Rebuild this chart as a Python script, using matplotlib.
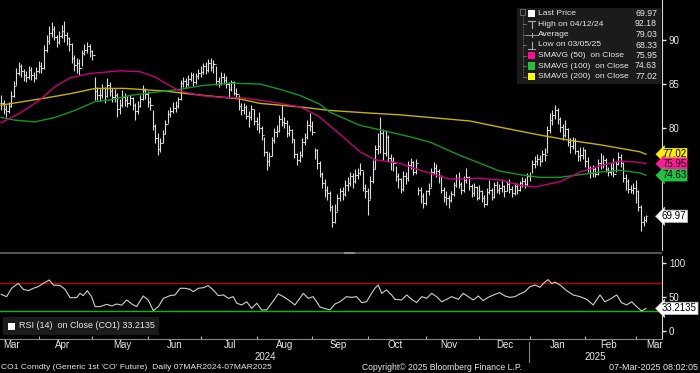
import matplotlib
matplotlib.use("Agg")
import matplotlib.pyplot as plt
import matplotlib.transforms as mtransforms
from matplotlib.patches import Rectangle
from matplotlib.lines import Line2D

plt.rcParams['font.family'] = ['Liberation Sans', 'DejaVu Sans']

W, H = 700, 373

# daily bars, trading day index 0 = 07MAR2024
close = [82.8, 82.2, 81.9, 82.5, 83.6, 84.8, 86.2, 87.0, 86.5, 86.0,
         85.8, 86.6, 86.0, 85.7, 86.5, 87.1, 86.8, 88.9, 89.9, 90.8,
         91.3, 90.4, 89.8, 90.5, 91.0, 90.6, 90.2, 89.5, 88.0, 87.2,
         87.4, 86.8, 88.5, 88.9, 89.3, 88.7, 88.3, 84.2, 83.8, 83.7,
         84.5, 83.6, 84.9, 84.2, 83.5, 83.8, 82.2, 82.6, 83.5, 83.2,
         82.8, 83.4, 82.6, 81.9, 82.5, 83.3, 84.3, 83.9, 83.0, 82.6,
         80.2, 78.9, 77.6, 78.3, 79.3, 80.5, 81.6, 81.9, 82.3, 82.5,
         83.3, 85.1, 85.3, 85.0, 85.6, 86.0, 85.2, 85.9, 86.3, 86.4,
         87.0, 86.6, 87.4, 86.9, 87.3, 85.3, 85.1, 85.8, 85.5, 85.0,
         84.4, 85.2, 84.0, 83.9, 82.5, 82.0, 82.4, 81.4, 81.2, 82.2,
         80.8, 80.5, 80.0, 79.2, 77.3, 76.2, 76.8, 78.6, 79.5, 79.7,
         81.0, 80.7, 80.6, 79.4, 79.8, 78.7, 77.0, 76.4, 76.9, 78.4,
         79.0, 80.3, 80.2, 79.6, 77.5, 76.0, 74.8, 73.8, 73.0, 72.6,
         71.0, 69.3, 70.5, 72.0, 72.8, 72.5, 73.5, 73.8, 74.5, 74.0,
         74.7, 74.9, 75.2, 73.2, 72.8, 71.8, 74.0, 75.4, 77.6, 78.0,
         79.4, 77.2, 79.0, 76.6, 76.2, 76.0, 74.5, 74.2, 73.1, 74.5,
         74.3, 75.8, 76.1, 75.0, 76.0, 73.0, 72.3, 71.5, 72.8, 73.2,
         75.0, 75.5, 75.1, 74.6, 73.0, 72.2, 72.0, 71.8, 72.5, 73.5,
         74.3, 73.6, 73.0, 74.1, 74.4, 73.4, 72.6, 73.3, 72.0, 72.9,
         72.0, 71.4, 72.7, 73.0, 72.2, 73.5, 73.0, 73.2, 73.4, 72.8,
         73.6, 73.1, 72.6, 73.4, 73.0, 73.7, 74.0, 73.6, 74.5, 74.6,
         75.9, 76.2, 76.5, 76.3, 77.0, 76.9, 79.8, 80.9, 81.5, 82.0,
         81.0, 80.1, 79.2, 79.9, 78.4, 78.0, 78.5, 77.4, 76.8, 76.9,
         77.5, 76.2, 75.5, 74.9, 75.4, 74.8, 76.0, 75.8, 76.4, 75.3,
         75.0, 75.5, 74.8, 75.9, 76.7, 76.0, 74.3, 74.0, 73.1, 73.0,
         73.2, 72.8, 71.0, 69.3, 69.5, 69.97]

high = [83.7, 83.2, 82.6, 83.0, 84.2, 85.3, 86.8, 87.5, 87.3, 86.7,
        86.5, 87.0, 86.9, 86.4, 86.9, 87.6, 87.5, 89.4, 90.6, 91.6,
        92.0, 91.6, 90.6, 91.0, 91.7, 92.18, 90.9, 90.4, 89.7, 88.3,
        88.0, 87.8, 88.9, 89.6, 89.8, 89.6, 88.9, 85.8, 84.7, 84.4,
        85.0, 84.7, 85.7, 85.2, 84.5, 84.4, 84.0, 83.3, 84.3, 84.0,
        83.6, 83.8, 83.5, 82.9, 83.1, 83.8, 84.9, 84.6, 84.2, 83.5,
        82.1, 80.5, 79.4, 78.9, 79.8, 80.9, 82.1, 82.4, 83.0, 83.1,
        83.5, 85.5, 85.8, 85.7, 86.0, 86.4, 86.2, 86.2, 86.7, 87.0,
        87.4, 87.5, 87.9, 88.0, 87.7, 87.1, 85.8, 86.4, 86.2, 85.9,
        85.2, 85.5, 85.4, 84.5, 83.8, 82.8, 82.9, 82.6, 81.9, 82.6,
        82.2, 81.3, 81.8, 80.2, 79.0, 77.4, 77.3, 79.0, 80.0, 80.3,
        81.5, 82.6, 81.2, 80.9, 80.3, 79.9, 78.8, 77.2, 77.4, 78.9,
        79.4, 80.9, 81.7, 80.8, 77.7, 77.6, 76.2, 75.0, 74.2, 73.4,
        72.9, 71.2, 71.4, 72.5, 73.2, 73.3, 74.1, 74.4, 75.0, 74.9,
        75.3, 75.5, 76.0, 75.1, 73.6, 73.2, 74.5, 76.4, 78.1, 79.4,
        81.2, 79.9, 79.8, 79.2, 77.0, 76.7, 75.7, 74.9, 74.3, 75.1,
        75.0, 76.2, 76.6, 76.3, 76.5, 73.3, 73.3, 72.6, 73.0, 73.8,
        75.5, 76.1, 75.9, 75.3, 74.7, 73.3, 72.8, 72.4, 72.9, 73.9,
        74.8, 75.0, 73.9, 74.5, 75.5, 74.6, 73.6, 73.7, 73.4, 73.5,
        73.0, 72.4, 73.2, 74.1, 73.2, 73.9, 74.0, 73.6, 74.2, 73.5,
        74.0, 74.2, 73.4, 73.7, 73.8, 74.0, 74.4, 74.3, 74.9, 75.0,
        76.4, 76.8, 77.1, 76.9, 77.5, 77.7, 80.2, 81.7, 82.0, 82.6,
        82.3, 81.3, 80.5, 80.9, 80.0, 78.9, 79.0, 78.9, 77.5, 77.8,
        77.8, 77.6, 76.7, 75.7, 75.8, 75.6, 76.5, 77.2, 76.9, 76.6,
        75.6, 76.0, 76.6, 76.2, 77.3, 77.0, 76.1, 74.8, 74.2, 73.5,
        73.8, 74.1, 73.0, 71.25, 70.0, 70.1]

low = [82.0, 81.6, 81.25, 81.7, 82.4, 83.5, 84.9, 86.0, 85.8, 85.4,
       85.2, 85.6, 85.5, 85.2, 85.6, 86.3, 86.2, 86.7, 88.6, 89.5,
       90.4, 90.0, 89.2, 89.6, 90.2, 89.8, 89.4, 88.7, 87.4, 86.5,
       86.2, 86.0, 87.0, 88.3, 88.5, 88.1, 87.7, 83.2, 83.2, 83.1,
       83.4, 82.8, 83.5, 83.6, 83.0, 83.0, 81.25, 81.6, 82.4, 82.5,
       82.4, 82.6, 82.0, 80.9, 81.6, 82.4, 83.2, 83.3, 82.4, 82.0,
       79.8, 78.3, 76.9, 77.3, 78.3, 79.3, 80.6, 81.3, 81.7, 81.8,
       82.3, 83.2, 84.7, 84.5, 84.8, 85.3, 84.8, 85.0, 85.6, 85.8,
       86.1, 86.1, 86.4, 86.5, 86.3, 84.9, 84.7, 84.9, 85.0, 84.5,
       83.5, 84.2, 83.7, 83.4, 82.1, 81.5, 81.6, 81.0, 80.1, 80.9,
       80.3, 79.8, 79.4, 78.6, 76.8, 75.2, 75.7, 76.8, 78.3, 79.0,
       79.6, 80.2, 80.0, 79.0, 79.1, 78.3, 76.6, 75.8, 76.1, 76.7,
       78.1, 78.7, 79.7, 79.2, 76.5, 75.3, 74.4, 73.2, 72.2, 71.8,
       70.6, 68.7, 69.2, 70.6, 71.7, 71.8, 72.3, 72.9, 73.4, 73.2,
       73.7, 74.2, 74.7, 72.8, 72.0, 70.1, 71.9, 73.8, 75.4, 77.0,
       77.2, 76.4, 76.8, 76.1, 75.2, 75.1, 74.0, 73.2, 72.6, 72.9,
       73.6, 74.0, 75.3, 74.7, 74.8, 72.4, 71.5, 70.9, 71.3, 72.4,
       73.3, 74.8, 74.4, 73.8, 72.6, 71.6, 71.2, 70.9, 71.6, 72.3,
       73.3, 73.2, 72.5, 72.7, 73.8, 73.0, 72.2, 72.3, 71.8, 71.9,
       71.6, 71.0, 71.3, 72.5, 71.8, 72.0, 72.6, 72.5, 72.7, 72.2,
       72.8, 72.6, 72.2, 72.4, 72.5, 72.9, 73.3, 73.2, 73.4, 74.0,
       74.9, 75.5, 75.8, 75.7, 76.1, 76.3, 77.2, 79.4, 80.4, 81.0,
       80.5, 79.6, 78.6, 79.0, 78.0, 77.2, 77.6, 77.0, 76.3, 76.2,
       76.5, 75.6, 75.0, 74.3, 74.4, 74.4, 74.7, 75.4, 75.5, 75.0,
       74.5, 74.7, 74.4, 75.0, 75.8, 75.6, 73.9, 73.0, 72.6, 72.6,
       72.5, 71.5, 70.6, 68.33, 68.9, 69.3]

# moving averages (day index, value)
sma50_day = [0, 7.5, 15.4, 21.3, 27.3, 35.2, 47, 55, 60.9, 66.8, 70.8, 78.7,
             86.6, 96.4, 106.3, 118.2, 125.3, 134, 141.9, 147.8, 157.7, 165.6,
             177.5, 189.3, 197.2, 205.1, 211.1, 221, 228.9, 236.8, 244.7, 252.6, 255]
sma50_val = [80.6, 81.7, 83.2, 84.7, 85.7, 86.2, 86.5, 86.4, 85.8, 84.8, 84.2, 83.7,
             83.5, 83.4, 83.0, 82.4, 81.4, 79.3, 77.3, 76.4, 76.0, 75.2,
             74.2, 74.3, 74.1, 73.5, 73.3, 73.9, 75.0, 75.7, 76.25, 76.1, 75.95]

sma100_day = [0, 5.5, 13.4, 21.3, 29.2, 37.2, 43.1, 51, 58.9, 70.8, 78.7, 90.5,
              102.4, 110.3, 118.2, 126.1, 130, 141.9, 149.8, 161.7, 169.6, 181.4,
              189.3, 197.2, 205.1, 213, 221, 228.9, 236.8, 244.7, 252.6, 255]
sma100_val = [81.2, 80.9, 80.7, 81.2, 82.0, 83.0, 83.2, 83.7, 84.0, 84.4, 84.8, 85.1,
              85.0, 84.4, 83.7, 82.7, 81.8, 80.3, 79.8, 79.0, 78.4, 76.9,
              76.0, 75.1, 74.7, 74.4, 74.4, 74.7, 75.0, 75.2, 74.9, 74.63]

sma200_day = [0, 17.4, 27.3, 37.2, 49, 64.8, 70.8, 78.7, 94.5, 102.4, 118.2,
              130, 145.8, 157.7, 185.4, 197.2, 213, 224.9, 236.8, 252.6, 255]
sma200_val = [82.6, 83.4, 83.9, 84.5, 84.5, 84.2, 84.0, 83.75, 83.3, 82.8, 82.4,
              82.0, 81.7, 81.5, 80.8, 80.1, 79.2, 78.6, 78.1, 77.3, 77.02]

rsi_day = [0, 2.2, 4.2, 6.8, 8.8, 10.8, 12.8, 14.7, 16.7, 19.1, 20.7, 23.3, 25.3,
           27.3, 29.9, 31.2, 32.5, 34.1, 35.8, 37.2, 39.1, 41.8, 43.8, 45.7, 47.7,
           49.7, 51.7, 53.6, 56.2, 58.2, 60.2, 62.2, 64.2, 66.8, 68.8, 70.8, 72.7,
           74.7, 76, 78, 80, 81.9, 83.9, 85.9, 87.9, 89.9, 91.8, 93.2, 95.1, 97.1,
           99.1, 101.1, 103, 105, 107, 109.6, 111.6, 113.6, 116.2, 119.5, 121.5,
           123.4, 126.1, 128.1, 130, 132, 134, 136.6, 138.6, 140.6, 142.6, 144.5,
           146.5, 147.8, 149.1, 150.5, 152.4, 154.4, 155.7, 158.4, 160.4, 162.3,
           164.3, 166.3, 168.3, 170.2, 172.2, 174.2, 176.2, 178.1, 180.8, 182.7,
           184.7, 186.7, 188.7, 190.6, 192.6, 195.3, 197.2, 199.2, 201.2, 203.2,
           205.1, 207.1, 209.1, 211.1, 213, 215, 216.3, 217.7, 219, 221, 223.6,
           226.2, 228.9, 231.5, 234.1, 236.8, 238.7, 240.7, 243.4, 245.3, 247.3,
           249.3, 251.3, 253.2, 255]
rsi_val = [54, 50.5, 62.8, 70, 61.3, 59.3, 62.8, 65.2, 70, 75, 67.6, 67, 61.3,
           49, 49, 55.4, 52, 59.3, 50.5, 35.8, 35.8, 39.2, 36.8, 39.7, 38,
           45.6, 39.7, 35.8, 51.5, 45.6, 30, 35.8, 48, 52, 53, 62.8, 62.8,
           61.3, 57.8, 62.8, 63.7, 66.7, 60.4, 52, 53, 48, 50.5, 40.8, 38.3, 43,
           33.3, 40.8, 31, 31, 40.8, 54.6, 50.5, 45.6, 38.3, 55.4, 48,
           50.5, 35.3, 32.8, 31, 39.7, 43, 50.5, 49.5, 50.5, 41.7, 43,
           55.4, 62.8, 67.6, 55.4, 60.4, 53, 46.6, 45.6, 53, 46.6,
           41.7, 50.5, 48, 55.4, 50.5, 43, 46.6, 50.5, 46.6, 55.4,
           50.5, 45.6, 51.5, 44.6, 49.5, 54, 56.4, 51.5, 49.5, 50.5,
           54.6, 57.8, 65.2, 67.6, 64.2, 72, 75.5, 69.6, 72, 67.6, 59.3,
           53, 50.5, 46.6, 38.3, 53, 43, 46.6, 53, 41.7, 38.3,
           43, 35.8, 29.5, 33.2135]

month_names = ['Mar', 'Apr', 'May', 'Jun', 'Jul', 'Aug', 'Sep', 'Oct', 'Nov', 'Dec',
               'Jan', 'Feb', 'Mar']
month_label_pos = [4.3, 24.5, 47.8, 68.8, 90.5, 112.3, 133.2, 155.7, 177, 199.2,
                   220.2, 240.3, 258.5]
month_starts = [15, 36, 58, 79, 101, 123, 145, 168, 189, 209, 231, 251]
year_names = ['2024', '2025']
year_pos = [104.3, 235]
year_break = 208.6

legend_labels = ['Last Price', 'High on 04/12/24', 'Average', 'Low on 03/05/25',
                 'SMAVG (50)  on Close', 'SMAVG (100)  on Close', 'SMAVG (200)  on Close']
legend_values = ['69.97', '92.18', '79.03', '68.33', '75.95', '74.63', '77.02']

TXT = '#e8e8e8'
MAG, GRN, YEL = '#c8007c', '#12962a', '#c8b400'


def fx(x):
    return x / W


def fy(y):
    return 1 - y / H


fig = plt.figure(figsize=(7, 3.73), dpi=100, facecolor='black')


def prect(x, y, w, h, **kw):
    fig.add_artist(Rectangle((fx(x), fy(y + h)), w / W, h / H,
                             transform=fig.transFigure, **kw))


def pline(xs, ys, **kw):
    fig.add_artist(Line2D([fx(x) for x in xs], [fy(y) for y in ys],
                          transform=fig.transFigure, **kw))


# ---- price panel
ax = fig.add_axes([0, fy(250), 662 / W, 250 / H], facecolor='black')
days = list(range(len(close)))
opens = [close[0]] + close[:-1]
ax.vlines(days, low, high, color='#dcdcdc', lw=0.8)
ax.hlines(close, days, [d + 0.5 for d in days], color='#dcdcdc', lw=0.8)
ax.hlines(opens, [d - 0.5 for d in days], days, color='#dcdcdc', lw=0.8)
ax.plot(sma200_day, sma200_val, color=YEL, lw=1.0)
ax.plot(sma100_day, sma100_val, color=GRN, lw=1.0)
ax.plot(sma50_day, sma50_val, color=MAG, lw=1.0)
ax.set_xlim(-0.4, 261.3)
ax.set_ylim(66.14, 94.55)
ax.set_xticks([])
ax.yaxis.tick_right()
ax.set_yticks([70, 75, 80, 85, 90])
ax.set_yticklabels(['', '', '80', '85', '90'])
ax.tick_params(axis='y', colors=TXT, labelsize=7, length=3, width=1, pad=2)
for s in ['left', 'top', 'bottom']:
    ax.spines[s].set_visible(False)
ax.spines['right'].set_color('#d8d8d8')


def tag(a, y, s, fc, tc='black'):
    a.text(1.0, y, s, transform=a.get_yaxis_transform(), ha='left', va='center',
           fontsize=7, color=tc, clip_on=False, zorder=6,
           bbox=dict(boxstyle='larrow,pad=0.12', fc=fc, ec='#bbbbbb' if fc == 'white' else 'none', lw=0.5))


tag(ax, 77.02, '77.02', '#ffee00')
tag(ax, 75.95, '75.95', '#ff1a9c')
tag(ax, 74.63, '74.63', '#22c244')
tag(ax, 69.97, '69.97', 'white')

# legend box
prect(517, 8, 144, 76, fc='#1b1b1b', ec='none')
rows = [13.5, 24, 34.5, 45, 55.5, 66, 76.5]
pline([522.5, 522.5], [15, 76.5], color='#777777', lw=0.6, ls=(0, (1, 1)))
prect(520, 9.5, 5, 5, fc='none', ec='#888888', lw=0.5)
for r in rows[1:]:
    pline([522.5, 526], [r, r], color='#777777', lw=0.6)
prect(528, rows[0] - 3.5, 7, 7, fc='white', ec='none')
pline([528, 535], [rows[1] - 3.5, rows[1] - 3.5], color='#aaaaaa', lw=0.8)
pline([531.5, 531.5], [rows[1] - 3.5, rows[1] + 3.5], color='#aaaaaa', lw=0.8)
pline([526, 537], [rows[2], rows[2]], color='#aaaaaa', lw=0.6)
pline([531.5, 531.5], [rows[2] - 2, rows[2] + 2], color='#aaaaaa', lw=0.8)
pline([531.5, 531.5], [rows[3] - 3.5, rows[3] + 3.5], color='#aaaaaa', lw=0.8)
pline([528, 535], [rows[3] + 3.5, rows[3] + 3.5], color='#aaaaaa', lw=0.8)
for r, c in zip(rows[4:], ['#ff0a96', '#22c23c', '#ffff00']):
    prect(528, r - 3.5, 7, 7, fc=c, ec='none')
for r, lab, val in zip(rows, legend_labels, legend_values):
    fig.text(fx(538), fy(r), lab, color=TXT, fontsize=6.1, va='center', ha='left')
    fig.text(fx(657), fy(r), val, color=TXT, fontsize=6.3, va='center', ha='right')

# separator between panels
prect(0, 251.5, 662, 2.5, fc='#555555', ec='none')
prect(344, 251.5, 11, 2.5, fc='#8a8a8a', ec='none')

# ---- RSI panel
ax2 = fig.add_axes([0, fy(339), 662 / W, 83 / H], facecolor='black')
ax2.axhline(70, color='#c00000', lw=1.0)
ax2.axhline(30, color='#00c000', lw=1.0)
ax2.plot(rsi_day, rsi_val, color='#cfcfcf', lw=0.8)
ax2.set_xlim(-0.4, 261.3)
ax2.set_ylim(-11.8, 110.3)
ax2.yaxis.tick_right()
ax2.set_yticks([0, 50, 100])
ax2.tick_params(axis='y', colors=TXT, labelsize=7, length=3, width=1, pad=2)
ax2.set_xticks(month_starts)
ax2.set_xticklabels([])
ax2.tick_params(axis='x', colors='#bbbbbb', direction='in', length=2, width=0.8)
for s in ['left', 'top']:
    ax2.spines[s].set_visible(False)
ax2.spines['right'].set_color('#d8d8d8')
ax2.spines['bottom'].set_color('#888888')
tag(ax2, 33.2135, '33.2135', 'white')

prect(3, 317, 156, 18, fc='#1b1b1b', ec='none')
prect(8, 322.5, 7, 7, fc='white', ec='none')
fig.text(fx(19), fy(326), 'RSI (14)  on Close (CO1) 33.2135', color=TXT, fontsize=6.5,
         va='center', ha='left')

# x axis labels
bt = mtransforms.blended_transform_factory(ax2.transData, fig.transFigure)
for name, p in zip(month_names, month_label_pos):
    fig.text(p, fy(345.5), name, transform=bt, color=TXT, fontsize=7, ha='center', va='center')
for name, p in zip(year_names, year_pos):
    fig.text(p, fy(356.5), name, transform=bt, color=TXT, fontsize=7, ha='center', va='center')
fig.add_artist(Line2D([year_break, year_break], [fy(342), fy(362)], transform=bt,
                      color='#888888', lw=0.8))

# footer
fig.text(fx(1), fy(367.5), "CO1 Comdty (Generic 1st 'CO' Future)  Daily 07MAR2024-07MAR2025",
         color=TXT, fontsize=6.1, ha='left', va='center')
fig.text(fx(362), fy(367.5), 'Copyright\u00a9 2025 Bloomberg Finance L.P.',
         color=TXT, fontsize=6.2, ha='left', va='center')
fig.text(fx(698), fy(367.5), '07-Mar-2025 08:02:05',
         color=TXT, fontsize=6.5, ha='right', va='center')

fig.savefig('out.png', dpi=100, facecolor='black')
